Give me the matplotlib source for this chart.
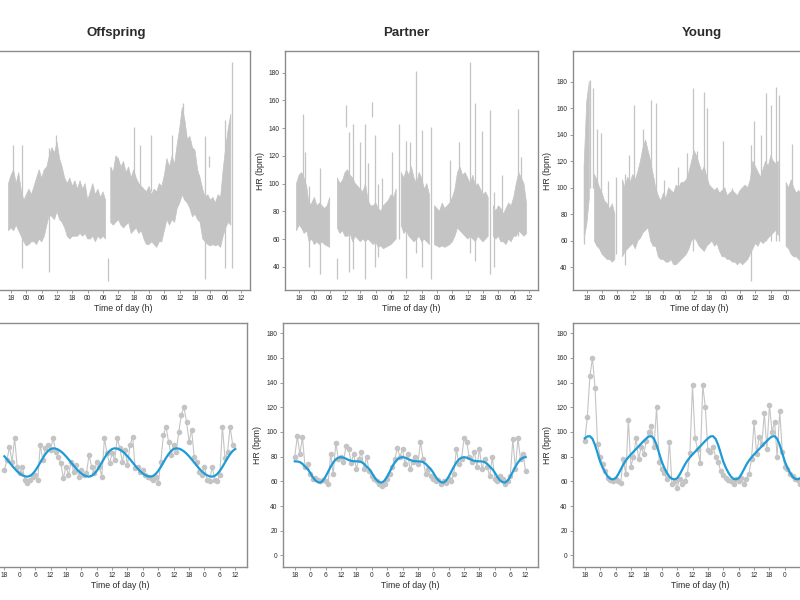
import numpy as np
import matplotlib
matplotlib.use('Agg')
import matplotlib.pyplot as plt

plt.rcParams['font.family'] = ['Liberation Sans', 'DejaVu Sans']

nan = np.nan

# ---------------- Top row: raw heart rate (hourly lower / upper envelope) ----------------
off_raw_t0 = 17
off_raw_lo = [66, 68, 66, 70, 66, 62, 58, 55, 56, 58, 58, 56, 60, 58, 62, 70, 78, 76, 74, 80,
              74, 72, 68, 62, 60, 62, 62, 62, 64, 62, 64, 60, 60, 62, 58, 62, 60, 62, 60, nan,
              72, 70, 72, 74, 70, 68, 70, 72, 64, 66, 68, 64, 66, 60, 56, 56, 58, 56, 54, 58,
              58, 66, 74, 70, 74, 72, 82, 86, 92, 88, 86, 82, 76, 78, 74, 72, 60, 58, 56, 55,
              56, 55, 56, 54, 62, 68, 72, 70]
off_raw_hi = [100, 106, 110, 100, 108, 95, 88, 92, 96, 92, 98, 104, 110, 104, 110, 112, 120, 126, 122, 130,
              118, 112, 104, 100, 104, 98, 102, 96, 102, 96, 100, 88, 94, 100, 92, 96, 90, 94, 88, nan,
              112, 108, 120, 118, 112, 116, 108, 112, 104, 110, 104, 100, 98, 96, 94, 98, 92, 96, 94, 100,
              98, 106, 118, 112, 120, 114, 128, 140, 155, 146, 132, 134, 126, 124, 110, 104, 96, 90, 92, 88,
              90, 86, 92, 90, 110, 126, 140, 150]
off_spk_t = [18.7, 22.3, 32.7, 35.6, 56.1, 66.3, 68.6, 72.8, 81.0, 85.2, 94.0, 95.4, 101.9, 104.4]
off_spk_lo = [100, 39, 36, 110, 30, 100, 95, 95, 100, 120, 31, 112, 39, 39]
off_spk_hi = [128, 128, 126, 135, 46, 141, 128, 135, 135, 158, 134, 120, 146, 188]

par_raw_t0 = 17
par_raw_lo = [66, 70, 68, 64, 66, 58, 60, 56, 58, 56, 58, 56, 55, 54, nan, nan, 68, 64, 66, 62,
              62, 64, 58, 62, 60, 58, 60, 58, 60, 58, 56, 58, 54, 55, 53, 54, 55, 56, 58, 60,
              nan, 70, 64, 66, 62, 60, 58, 60, 62, 58, 60, 58, 56, nan, 56, 55, 54, 55, 54, 55,
              56, 58, 62, 68, 66, 64, 62, 60, 62, 60, 58, 62, 60, 58, 60, 62, nan, 62, 60, 62,
              58, 58, 56, 60, 58, 62, 62, 66, 64, 62, 64]
par_raw_hi = [100, 106, 108, 104, 98, 84, 86, 90, 84, 86, 84, 82, 84, 90, nan, nan, 104, 100, 102, 108,
              110, 106, 104, 100, 98, 96, 94, 100, 88, 84, 84, 86, 82, 80, 84, 86, 88, 92, 90, 96,
              nan, 108, 104, 110, 106, 112, 104, 100, 108, 104, 96, 100, 92, nan, 84, 82, 80, 86, 82, 84,
              86, 90, 96, 108, 112, 106, 108, 104, 100, 106, 98, 100, 96, 92, 94, 90, nan, 84, 80, 84,
              82, 78, 82, 86, 84, 90, 100, 108, 104, 100, 86]
par_spk_t = [19.7, 20.3, 21.9, 26.0, 32.7, 36.4, 37.6, 39.3, 41.9, 43.8, 45.1, 46.4, 47.7, 48.7,
             50.4, 54.3, 57.3, 59.7, 61.4, 63.8, 66.0, 69.7, 77.1, 80.4, 84.7, 86.9, 89.5, 92.8,
             94.1, 97.3, 103.6, 104.8]
par_spk_lo = [70, 90, 40, 35, 31, 141, 36, 38, 60, 31, 60, 148, 40, 47,
              70, 70, 60, 32, 80, 50, 40, 31, 70, 80, 50, 44, 60, 35,
              40, 70, 62, 70]
par_spk_hi = [150, 123, 98, 111, 46, 157, 137, 143, 130, 143, 115, 159, 135, 100,
              104, 123, 143, 131, 130, 181, 139, 141, 117, 130, 188, 158, 138, 153,
              94, 106, 154, 119]

yng_raw_t0 = 17
yng_raw_lo = [62, 72, 92, nan, 60, 56, 54, 50, 48, 46, 46, 44, 46, nan, nan, 48, 52, 54, 56, 58,
              54, 60, 62, 66, 68, 70, 60, 56, 56, 48, 46, 46, 44, 44, 46, 42, 42, 44, 46, 48,
              50, 54, 60, 62, 60, 56, 54, 52, 56, 58, 60, 56, 58, 52, 48, 48, 46, 46, 44, 44,
              42, 44, 42, 44, 46, 50, 54, 58, 56, 60, 58, 60, 62, 64, 66, 68, 64, nan, nan, 56,
              54, 50, 48, 48, 46, 44]
yng_raw_hi = [118, 165, 180, nan, 110, 106, 100, 96, 90, 88, 84, 88, 80, nan, nan, 106, 100, 108, 104, 110,
              106, 112, 120, 130, 136, 128, 120, 110, 100, 94, 90, 96, 92, 100, 98, 96, 102, 100, 104, 104,
              106, 112, 120, 128, 124, 118, 112, 116, 108, 102, 100, 98, 100, 96, 98, 100, 94, 96, 98, 96,
              94, 98, 100, 102, 100, 106, 120, 116, 112, 108, 114, 120, 116, 124, 120, 118, 120, nan, nan, 104,
              100, 106, 100, 96, 98, 94]
yng_spk_t = [17.1, 19.2, 20.6, 22.2, 23.5, 26.2, 29.4, 33.1, 34.4, 36.4, 40.0, 43.3, 45.2, 48.1,
             53.8, 57.1, 59.7, 61.0, 63.9, 65.0, 71.2, 74.8, 82.1, 83.4, 86.0, 88.0, 90.0, 92.0,
             93.3, 98.5]
yng_spk_lo = [58, 100, 100, 70, 70, 60, 50, 42, 60, 70, 70, 70, 56, 50,
              50, 60, 52, 60, 58, 60, 60, 46, 30, 60, 60, 60, 60, 60,
              60, 52]
yng_spk_hi = [118, 181, 175, 144, 141, 105, 108, 110, 125, 162, 144, 166, 164, 106,
              116, 126, 175, 128, 172, 160, 135, 100, 132, 150, 140, 171, 162, 176,
              170, 133]

# ---------------- Bottom row: hourly mean heart rate + cosinor fit ----------------
off_hr_t0 = 18
off_hr = [69, 77, 88, 76, 95, 72, 66.5, 72, 61, 58.4, 61, 63.8, 65, 61, 89.5, 77, 86.8, 89.5, 85.4, 95.4,
          84, 80, 74.6, 62.4, 72, 65, 76, 67.8, 73.2, 63.8, 69.2, 65, 66.5, 81.4, 72, 66.5, 76, 72, 63.8, 94.9,
          82.7, 74.6, 82.7, 77.3, 94.9, 86.8, 76, 85.4, 73.2, 89.5, 96.2, 70.5, 72, 67.8, 69.2, 65, 63.8, 62.4, 61, 63.8,
          58.4, 76, 97.6, 104.3, 92.2, 81.4, 89.5, 84, 100.3, 113.8, 120.5, 108.4, 92.2, 101.6, 80, 76, 67.8, 65, 72, 61,
          60.3, 72, 61, 60.3, 65, 104.3, 78.6, 84, 104.3, 89.5]
par_hr_t0 = 18
par_hr = [80, 96.5, 82, 96, 72, 74, 66, 62, 63, 61, 60.5, 61, 60, 58, 82.5, 66, 91, 78, 80, 76,
          89, 86, 75, 82, 70, 78, 84, 70, 80, 68, 64, 62, 60, 58, 56, 58, 62, 66, 72, 78,
          87, 80, 86, 74, 82, 70, 76, 80, 74, 92, 78, 66, 70, 64, 62, 60, 61, 58, 60, 59,
          62, 60, 66, 86, 74, 78, 95, 92, 80, 76, 84, 72, 86, 70, 78, 72, 64, 80, 62, 60,
          64, 62, 58, 60, 64, 94, 70, 95, 78, 82, 68]
yng_hr_t0 = 18
yng_hr = [93, 112, 145, 160, 136, 90, 80, 74, 68, 63, 61, 60, 62, 60, 59, 78, 66, 110, 72, 80,
          95, 78, 88, 82, 93, 100, 105, 88, 120, 76, 70, 67, 62, 92, 58, 60, 55, 62, 58, 60,
          66, 83, 138, 95, 86, 75, 138, 120, 85, 84, 88, 80, 76, 68, 65, 63, 61, 60, 58, 62,
          60, 63, 58, 62, 66, 78, 108, 82, 96, 90, 115, 86, 122, 100, 108, 80, 117, 84, 72, 70,
          66, 64, 62, 61, 58, 60]

# fitted 24-h rhythm, value at each clock hour 0..23
off_fit_day = [66.3, 64.9, 64.1, 63.8, 64.4, 66.0, 68.5, 71.7, 75.3, 78.9, 82.1, 84.6,
               86.2, 86.8, 86.5, 85.7, 84.3, 82.5, 80.3, 77.9, 75.3, 72.7, 70.3, 68.1]
par_fit_day = [67.0, 63.5, 60.8, 59.3, 59.0, 60.6, 63.8, 67.8, 71.8, 75.3, 77.8, 79.2,
               79.6, 79.2, 78.3, 77.3, 76.6, 76.3, 76.2, 76.1, 75.6, 74.2, 72.0, 70.0]
yng_fit_day = [76.0, 71.0, 67.0, 63.8, 62.0, 61.6, 62.5, 65.5, 69.5, 73.5, 76.8, 79.5,
               81.8, 84.0, 86.2, 88.4, 90.6, 92.8, 94.8, 96.4, 96.6, 94.5, 89.5, 82.8]
fit_hours = np.arange(18, 109)

titles = ['Offspring', 'Partner', 'Young']
top_ticks = [18, 24, 30, 36, 42, 48, 54, 60, 66, 72, 78, 84, 90, 96, 102, 108]
top_ticklabels = ['18', '00', '06', '12'] * 4
bot_ticklabels = ['18', '0', '6', '12'] * 4

GRAY = '#c4c4c4'
BLUE = '#1e9bd7'
SPINE = '#8c8c8c'
TXT = '#2b2b2b'

W, H = 800, 600
fig = plt.figure(figsize=(8, 6), dpi=100)

top_pos = [(-3, 51, 253, 239), (285, 51, 253, 239), (572.7, 51, 253, 239)]
bot_pos = [(-7.7, 322.7, 255, 244), (282.7, 322.7, 255, 244), (572.7, 322.7, 255, 244)]
top_ylim = [(23.2, 195.7), (23.2, 195.7), (23.0, 203.0)]
title_x = [0.473, 0.478, 0.51]

raw = [(off_raw_t0, off_raw_lo, off_raw_hi, off_spk_t, off_spk_lo, off_spk_hi),
       (par_raw_t0, par_raw_lo, par_raw_hi, par_spk_t, par_spk_lo, par_spk_hi),
       (yng_raw_t0, yng_raw_lo, yng_raw_hi, yng_spk_t, yng_spk_lo, yng_spk_hi)]
hourly = [(off_hr_t0, off_hr, off_fit_day), (par_hr_t0, par_hr, par_fit_day),
          (yng_hr_t0, yng_hr, yng_fit_day)]


def style(ax, col):
    for s in ax.spines.values():
        s.set_color(SPINE)
        s.set_linewidth(1.0)
    ax.tick_params(axis='both', direction='out', length=2.2, width=0.6, color=SPINE,
                   labelsize=4.8, labelcolor=TXT, pad=1.5)
    ax.set_xlabel('Time of day (h)', fontsize=6.3, color=TXT, labelpad=1.5)
    if col == 0:
        # the y axis of the left column lies outside the visible picture
        ax.tick_params(axis='y', labelleft=False)
    else:
        ax.set_ylabel('HR (bpm)', fontsize=6.3, color=TXT, labelpad=3)
    if col == 2:
        # hide tick labels that would fall past the right edge of the picture
        fig.canvas.draw()
        for lab in ax.get_xticklabels():
            bb = lab.get_window_extent()
            if bb.x0 + bb.width / 2 > W - 2:
                lab.set_visible(False)


for i in range(3):
    l, t, w, h = top_pos[i]
    ax = fig.add_axes([l / W, 1 - (t + h) / H, w / W, h / H])
    t0, lo, hi, st, slo, shi = raw[i]
    tt = t0 + np.arange(len(lo))
    ax.fill_between(tt, lo, hi, color=GRAY, linewidth=0.5, edgecolor=GRAY)
    ax.vlines(st, slo, shi, color=GRAY, linewidth=0.9)
    ax.set_xlim(12.5, 111.5)
    ax.set_ylim(*top_ylim[i])
    ax.set_xticks(top_ticks)
    ax.set_xticklabels(top_ticklabels)
    ax.set_yticks(np.arange(40, 181, 20))
    style(ax, i)
    ax.set_title(titles[i], fontsize=9.5, fontweight='bold', color=TXT, x=title_x[i], pad=11)

    l, t, w, h = bot_pos[i]
    ax = fig.add_axes([l / W, 1 - (t + h) / H, w / W, h / H])
    t0, vals, fday = hourly[i]
    th = t0 + np.arange(len(vals))
    ax.plot(th, vals, color=GRAY, linewidth=0.8, marker='o', markersize=3.0,
            markerfacecolor=GRAY, markeredgecolor=GRAY, zorder=2)
    fit = np.array(fday)[fit_hours % 24]
    ax.plot(fit_hours, fit, color=BLUE, linewidth=1.6, zorder=3)
    ax.set_xlim(13.3, 112.7)
    ax.set_ylim(-9.2, 188.6)
    ax.set_xticks(top_ticks)
    ax.set_xticklabels(bot_ticklabels)
    ax.set_yticks(np.arange(0, 181, 20))
    style(ax, i)

fig.savefig('out.png', dpi=100)
